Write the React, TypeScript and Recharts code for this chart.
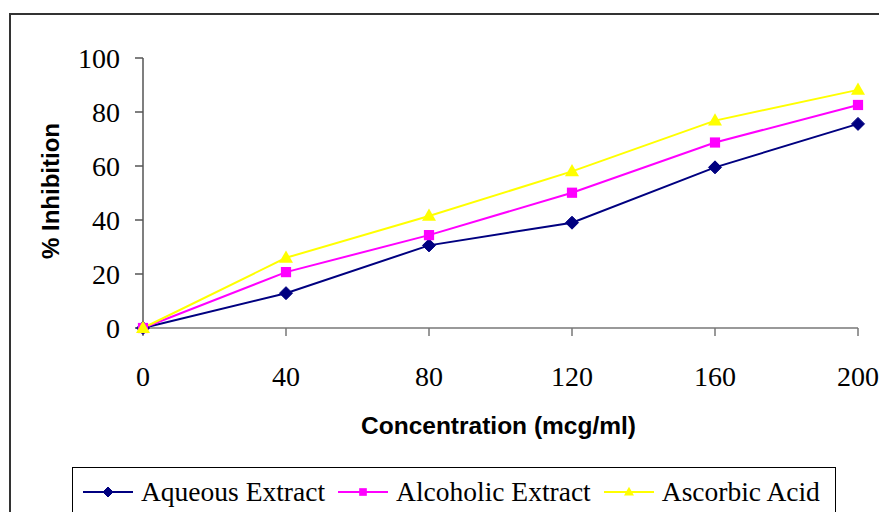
import React from 'react';
import { LineChart, Line, XAxis, YAxis, Legend } from 'recharts';

const concentrations = [0, 40, 80, 120, 160, 200];
const aqueous = [0, 12.9, 30.6, 39, 59.5, 75.6];
const alcoholic = [0, 20.7, 34.4, 50.1, 68.7, 82.6];
const ascorbic = [0, 26, 41.5, 58, 76.8, 88.2];
const yTicks = [0, 20, 40, 60, 80, 100];

const seriesNames = ['Aqueous Extract', 'Alcoholic Extract', 'Ascorbic Acid'];
const seriesColors = ['#000080', '#FF00FF', '#FFFF00'];

const data = concentrations.map((c, i) => ({
  conc: c,
  aqueous: aqueous[i],
  alcoholic: alcoholic[i],
  ascorbic: ascorbic[i],
}));

const SERIF = '"Liberation Serif", "Times New Roman", serif';
const SANS = '"Liberation Sans", Arial, sans-serif';

function Marker({ kind, cx, cy, color, s }: { kind: number; cx: number; cy: number; color: string; s: number }) {
  if (kind === 0) {
    return <polygon points={`${cx},${cy - s} ${cx + s},${cy} ${cx},${cy + s} ${cx - s},${cy}`} fill={color} stroke={color} strokeWidth={1} />;
  }
  if (kind === 1) {
    return <rect x={cx - s * 0.85} y={cy - s * 0.85} width={s * 1.7} height={s * 1.7} fill={color} />;
  }
  return <polygon points={`${cx},${cy - s * 1.05} ${cx + s},${cy + s * 0.7} ${cx - s},${cy + s * 0.7}`} fill={color} />;
}

const makeDot = (kind: number, color: string, s: number) => (props: any) => {
  const { cx, cy, index } = props;
  if (cx == null || cy == null) return <g key={`d-${kind}-${index}`} />;
  return <g key={`d-${kind}-${index}`}><Marker kind={kind} cx={cx} cy={cy} color={color} s={s} /></g>;
};

const LegendContent = () => (
  <div
    style={{
      border: '1px solid #000',
      height: 50,
      boxSizing: 'border-box',
      display: 'flex',
      alignItems: 'center',
      paddingLeft: 10,
      background: '#fff',
      whiteSpace: 'nowrap',
      overflow: 'visible',
    }}
  >
    {seriesNames.map((name, i) => (
      <div key={name} style={{ display: 'flex', alignItems: 'center', marginRight: 13, flexShrink: 0 }}>
        <svg width={50} height={16} style={{ display: 'block', flexShrink: 0 }}>
          <line x1={0} y1={8} x2={50} y2={8} stroke={seriesColors[i]} strokeWidth={2} />
          <Marker kind={i} cx={25} cy={8} color={seriesColors[i]} s={i === 1 ? 4.5 : 5} />
        </svg>
        <span style={{ fontFamily: SERIF, fontSize: 27.5, color: '#000', marginLeft: 8, lineHeight: '30px', whiteSpace: 'nowrap' }}>{name}</span>
      </div>
    ))}
  </div>
);

export default function App() {
  return (
    <div style={{ position: 'relative', width: 879, height: 504, overflow: 'hidden' }}>
      <div
        style={{
          position: 'absolute',
          left: 1,
          top: 5,
          width: 1000,
          height: 1000,
          border: '2px solid #333',
          boxSizing: 'border-box',
        }}
      />
      <LineChart
        width={879}
        height={504}
        data={data}
        margin={{ top: 50, right: 29, left: 0, bottom: 124 }}
        style={{ position: 'absolute', left: 0, top: 0 }}
      >
        <XAxis
          dataKey="conc"
          type="number"
          domain={[0, 200]}
          ticks={concentrations}
          height={60}
          tickSize={8}
          tickMargin={30}
          axisLine={{ stroke: '#777', strokeWidth: 1.5 }}
          tickLine={{ stroke: '#777', strokeWidth: 1.5 }}
          tick={{ fill: '#000', fontSize: 28, fontFamily: SERIF }}
          label={(props: any) => {
            const vb = props.viewBox || {};
            return (
              <text
                x={vb.x + vb.width / 2 - 2}
                y={vb.y + 106}
                textAnchor="middle"
                fontFamily={SANS}
                fontWeight="bold"
                fontSize={24.5}
                fill="#000"
              >
                Concentration (mcg/ml)
              </text>
            );
          }}
        />
        <YAxis
          type="number"
          domain={[0, 100]}
          ticks={yTicks}
          width={135}
          tickSize={8}
          tickMargin={15}
          axisLine={{ stroke: '#555', strokeWidth: 1.5 }}
          tickLine={{ stroke: '#555', strokeWidth: 1.5 }}
          tick={{ fill: '#000', fontSize: 28, fontFamily: SERIF }}
          label={(props: any) => {
            const vb = props.viewBox || {};
            const cx = 42;
            const cy = vb.y + vb.height / 2 - 2;
            return (
              <text
                x={cx}
                y={cy}
                transform={`rotate(-90 ${cx} ${cy})`}
                textAnchor="middle"
                dominantBaseline="central"
                fontFamily={SANS}
                fontWeight="bold"
                fontSize={24}
                fill="#000"
              >
                % Inhibition
              </text>
            );
          }}
        />
        <Legend
          layout="horizontal"
          verticalAlign="middle"
          align="center"
          wrapperStyle={{ left: 64, top: 459, width: 764, height: 50 }}
          content={<LegendContent />}
        />
        <Line
          dataKey="aqueous"
          name={seriesNames[0]}
          stroke={seriesColors[0]}
          strokeWidth={2}
          isAnimationActive={false}
          dot={makeDot(0, seriesColors[0], 6.5)}
          activeDot={false}
        />
        <Line
          dataKey="alcoholic"
          name={seriesNames[1]}
          stroke={seriesColors[1]}
          strokeWidth={2}
          isAnimationActive={false}
          dot={makeDot(1, seriesColors[1], 6)}
          activeDot={false}
        />
        <Line
          dataKey="ascorbic"
          name={seriesNames[2]}
          stroke={seriesColors[2]}
          strokeWidth={2}
          isAnimationActive={false}
          dot={makeDot(2, seriesColors[2], 7)}
          activeDot={false}
        />
      </LineChart>
    </div>
  );
}
